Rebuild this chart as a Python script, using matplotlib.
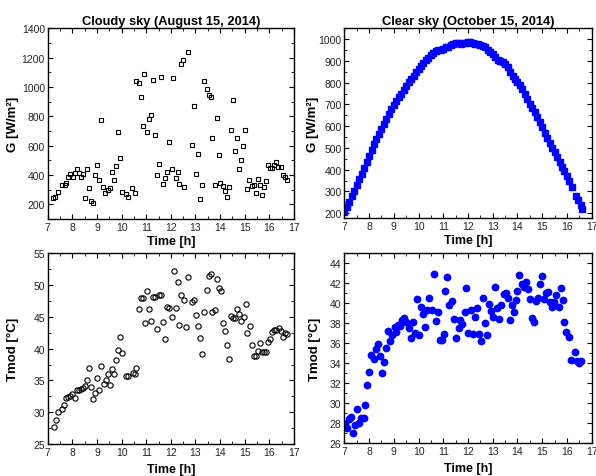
import matplotlib
matplotlib.use("Agg")
import matplotlib.pyplot as plt
from matplotlib.ticker import MultipleLocator

plt.rcParams['font.family'] = ['Liberation Sans', 'DejaVu Sans']

# Cloudy sky, irradiance
t_cloudy_g = [7.20, 7.31, 7.41, 7.58, 7.69, 7.76, 7.84, 7.92, 8.02, 8.09, 8.17, 8.26, 8.34, 8.42,
              8.51, 8.59, 8.67, 8.75, 8.84, 8.92, 9.02, 9.10, 9.18, 9.26, 9.34, 9.43, 9.52, 9.61,
              9.69, 9.77, 9.85, 9.93, 10.01, 10.16, 10.26, 10.43, 10.53, 10.60, 10.69, 10.77, 10.85,
              10.93, 11.03, 11.10, 11.19, 11.27, 11.34, 11.44, 11.52, 11.61, 11.69, 11.78, 11.86,
              11.93, 12.03, 12.09, 12.19, 12.27, 12.35, 12.43, 12.51, 12.53, 12.70, 12.86, 12.93,
              13.03, 13.12, 13.19, 13.28, 13.35, 13.45, 13.54, 13.61, 13.69, 13.78, 13.86, 13.95,
              14.01, 14.10, 14.20, 14.28, 14.36, 14.43, 14.53, 14.61, 14.69, 14.77, 14.85, 14.93,
              15.03, 15.08, 15.19, 15.28, 15.36, 15.45, 15.54, 15.62, 15.72, 15.80, 15.86, 15.96,
              16.04, 16.12, 16.20, 16.28, 16.36, 16.46, 16.54, 16.62, 16.70]
g_cloudy = [246, 250, 287, 330, 335, 344, 383, 406, 388, 413, 443, 413, 388, 406,
            246, 443, 314, 220, 207, 400, 466, 367, 777, 319, 280, 301, 314, 422,
            367, 461, 690, 518, 287, 273, 250, 308, 280, 1043, 1029, 930, 736,
            1088, 695, 782, 810, 1050, 670, 400, 473, 1068, 342, 381, 422,
            626, 438, 1063, 381, 418, 342, 1157, 1185, 319, 1240, 605, 871,
            404, 546, 234, 335, 1038, 985, 947, 930, 653, 335, 788, 534,
            347, 324, 289, 250, 319, 708, 914, 566, 653, 440, 500, 601,
            708, 303, 363, 328, 335, 280, 376, 335, 266, 317, 358, 470,
            447, 447, 466, 486, 454, 454, 400, 383, 369]

# Clear sky, irradiance
t_clear_g = [7.0, 7.1, 7.2, 7.3, 7.4, 7.5, 7.6, 7.7, 7.8, 7.9,
             8.0, 8.1, 8.2, 8.3, 8.4, 8.5, 8.6, 8.7, 8.8, 8.9,
             9.0, 9.1, 9.2, 9.3, 9.4, 9.5, 9.6, 9.7, 9.8, 9.9,
             10.0, 10.1, 10.2, 10.3, 10.4, 10.5, 10.6, 10.7, 10.8, 10.9,
             11.0, 11.1, 11.2, 11.3, 11.4, 11.5, 11.6, 11.7, 11.8, 11.9,
             12.0, 12.1, 12.2, 12.3, 12.4, 12.5, 12.6, 12.7, 12.8, 12.9,
             13.0, 13.1, 13.2, 13.3, 13.4, 13.5, 13.6, 13.7, 13.8, 13.9,
             14.0, 14.1, 14.2, 14.3, 14.4, 14.5, 14.6, 14.7, 14.8, 14.9,
             15.0, 15.1, 15.2, 15.3, 15.4, 15.5, 15.6, 15.7, 15.8, 15.9,
             16.0, 16.1, 16.2, 16.35, 16.45, 16.55, 16.62]
g_clear = [205, 228, 252, 278, 304, 330, 356, 382, 410, 437,
           465, 492, 518, 543, 566, 588, 612, 635, 657, 677,
           697, 715, 733, 750, 767, 785, 802, 818, 833, 847,
           862, 877, 890, 902, 915, 926, 937, 945, 948, 952,
           957, 962, 966, 972, 980, 984, 982, 980, 981, 984,
           989, 985, 983, 980, 978, 975, 970, 962, 950, 940,
           930, 918, 905, 898, 893, 885, 870, 850, 830, 818,
           805, 790, 770, 748, 726, 704, 685, 663, 640, 617,
           595, 570, 545, 522, 500, 480, 458, 436, 414, 393,
           372, 350, 322, 280, 260, 240, 218]

# Cloudy sky, module temperature
t_cloudy_t = [7.24, 7.33, 7.41, 7.58, 7.66, 7.75, 7.83, 7.91, 8.00, 8.09, 8.18, 8.26, 8.34, 8.42,
              8.51, 8.59, 8.67, 8.76, 8.85, 8.93, 9.01, 9.10, 9.17, 9.27, 9.35, 9.43, 9.51, 9.60,
              9.69, 9.77, 9.85, 9.93, 10.02, 10.16, 10.26, 10.45, 10.54, 10.60, 10.69, 10.77, 10.85,
              10.94, 11.03, 11.10, 11.19, 11.28, 11.36, 11.44, 11.53, 11.61, 11.69, 11.78, 11.86,
              11.93, 12.03, 12.11, 12.19, 12.27, 12.35, 12.43, 12.53, 12.61, 12.70, 12.84, 12.95,
              13.04, 13.12, 13.19, 13.28, 13.35, 13.45, 13.53, 13.61, 13.69, 13.78, 13.86, 13.95,
              14.03, 14.11, 14.20, 14.28, 14.36, 14.45, 14.53, 14.62, 14.70, 14.78, 14.86, 14.95,
              15.04, 15.11, 15.20, 15.28, 15.36, 15.46, 15.53, 15.62, 15.70, 15.78, 15.86, 15.96,
              16.04, 16.12, 16.20, 16.28, 16.38, 16.46, 16.54, 16.62, 16.70]
tmod_cloudy = [27.6, 28.8, 30.05, 30.5, 31.2, 32.2, 32.4, 32.6, 32.85, 32.2, 33.5, 33.5, 33.6, 33.85,
               34.2, 35.0, 37.0, 33.95, 32.1, 33.05, 35.4, 33.5, 37.3, 34.5, 35.1, 36.0, 34.3, 36.8,
               36.0, 38.2, 39.8, 41.9, 39.3, 35.65, 35.65, 36.2, 36.0, 37.0, 46.2, 47.9, 47.9,
               44.0, 49.1, 46.3, 44.4, 48.1, 48.2, 43.1, 48.5, 48.5, 44.2, 41.5, 46.6,
               46.4, 45.0, 52.2, 46.4, 50.5, 43.7, 48.4, 47.6, 43.4, 51.2, 47.3, 47.6,
               45.3, 43.5, 41.7, 39.1, 45.8, 49.2, 51.4, 51.8, 45.8, 46.1, 51.0, 49.6,
               49.0, 44.0, 42.8, 40.5, 38.4, 45.1, 44.9, 44.9, 46.2, 45.4, 44.4, 45.0,
               47.1, 42.4, 43.5, 40.5, 38.8, 38.8, 39.7, 40.9, 39.4, 39.4, 39.4, 41.0,
               41.5, 42.6, 43.0, 42.9, 43.3, 42.8, 41.9, 42.5, 42.3]

# Clear sky, module temperature
t_clear_t = [7.04, 7.11, 7.19, 7.27, 7.35, 7.45, 7.53, 7.61, 7.69, 7.78, 7.85, 7.93, 8.01, 8.09,
             8.19, 8.27, 8.35, 8.43, 8.53, 8.61, 8.69, 8.77, 8.85, 8.93, 9.03, 9.09, 9.17, 9.26,
             9.35, 9.43, 9.50, 9.61, 9.69, 9.78, 9.86, 9.94, 10.02, 10.11, 10.19, 10.27, 10.35,
             10.43, 10.53, 10.61, 10.69, 10.77, 10.85, 10.93, 11.01, 11.09, 11.17, 11.24,
             11.36, 11.44, 11.52, 11.62, 11.69, 11.77, 11.86, 11.93, 12.01, 12.11, 12.19, 12.27,
             12.35, 12.44, 12.52, 12.61, 12.69, 12.77, 12.85, 12.93, 13.01, 13.11, 13.19, 13.27,
             13.35, 13.44, 13.52, 13.60, 13.68, 13.76, 13.84, 13.92, 14.00, 14.08, 14.17, 14.25,
             14.33, 14.41, 14.49, 14.59, 14.67, 14.75, 14.83, 14.91, 14.99, 15.08, 15.15, 15.24,
             15.33, 15.40, 15.48, 15.56, 15.66, 15.74, 15.82, 15.90, 15.98, 16.08, 16.17, 16.32,
             16.40, 16.49, 16.57]
tmod_clear = [27.93, 27.54, 28.37, 28.57, 27.04, 27.83, 29.37, 28.03, 28.54, 28.54, 29.8, 31.8, 33.13, 34.84,
              34.4, 35.4, 35.9, 34.74, 33.03, 34.1, 35.5, 37.2, 36.2, 36.8, 37.57, 37.07, 37.84, 37.67,
              38.3, 38.47, 38.07, 37.47, 36.53, 38.13, 36.97, 40.4, 36.83, 39.6, 38.9, 37.57, 39.33,
              40.5, 39.33, 42.9, 38.17, 39.1, 36.3, 36.3, 36.87, 41.18, 42.58, 39.77,
              40.25, 38.37, 36.53, 37.47, 38.3, 37.9, 39.1, 41.48, 36.97, 39.33, 36.93, 38.57,
              39.47, 36.9, 36.2, 40.55, 38.0, 36.8, 39.9, 39.17, 38.63, 41.61, 39.54, 38.43,
              39.84, 40.88, 41.0, 40.55, 38.27, 39.77, 39.1, 40.27, 41.24, 42.8, 41.9, 41.57,
              42.1, 41.4, 40.4, 38.47, 38.07, 40.23, 40.55, 41.9, 42.7, 40.4, 41.0, 41.07,
              40.13, 39.6, 40.1, 40.77, 39.6, 41.5, 40.33, 38.07, 37.07, 36.63, 34.33, 35.13,
              34.23, 33.97, 34.2]

fig = plt.figure(figsize=(5.96, 4.77), dpi=100)
W, H = 596, 477


def make_axes(left, top, right, bottom):
    return fig.add_axes([left / W, 1 - bottom / H, (right - left) / W, (bottom - top) / H])


def style(ax, ymaj, ymin, ylabel, ylim, ylab_x, xlab_y):
    ax.set_xlim(7, 17)
    ax.set_ylim(*ylim)
    ax.xaxis.set_major_locator(MultipleLocator(1))
    ax.xaxis.set_minor_locator(MultipleLocator(0.5))
    ax.yaxis.set_major_locator(MultipleLocator(ymaj))
    ax.yaxis.set_minor_locator(MultipleLocator(ymin))
    ax.tick_params(which='both', direction='in', top=True, right=True,
                   labelsize=7.5, pad=2, colors='black', labelcolor='#222222')
    ax.tick_params(which='major', length=3.5, width=0.8)
    ax.tick_params(which='minor', length=2, width=0.6)
    for sp in ax.spines.values():
        sp.set_linewidth(1.0)
    ax.set_xlabel('Time [h]', fontsize=9, fontweight='bold')
    ax.set_ylabel(ylabel, fontsize=9.5, fontweight='bold')
    # fixed label positions, like the original layout
    ax.yaxis.set_label_coords(ylab_x, 0.5)
    ax.xaxis.set_label_coords(0.5, xlab_y)


ax1 = make_axes(47.7, 29.3, 294, 220)
ax1.plot(t_cloudy_g, g_cloudy, 's', ms=3.4, mfc='none', mec='black', mew=0.8)
style(ax1, 200, 100, 'G [W/m²]', (100, 1400), -0.117, -0.082)
ax1.set_title('Cloudy sky (August 15, 2014)', fontsize=9.3, fontweight='bold', pad=3)

ax2 = make_axes(344.3, 29.3, 591.7, 219)
ax2.plot(t_clear_g, g_clear, 's', ms=3.9, color='#0000ff', mec='#0000ff')
style(ax2, 100, 50, 'G [W/m²]', (178, 1050), -0.102, -0.085)
ax2.set_title('Clear sky (October 15, 2014)', fontsize=9.3, fontweight='bold', pad=3)

ax3 = make_axes(47.7, 254.3, 294, 445)
ax3.plot(t_cloudy_t, tmod_cloudy, 'o', ms=3.8, mfc='none', mec='black', mew=0.8)
style(ax3, 5, 2.5, 'Tmod [°C]', (25, 55), -0.117, -0.1)

ax4 = make_axes(344.3, 254, 591.7, 444)
ax4.plot(t_clear_t, tmod_clear, 'o', ms=4.6, color='#0000ff', mec='#0000ff')
style(ax4, 2, 1, 'Tmod [°C]', (26, 45), -0.094, -0.1)

fig.savefig('out.png', dpi=100)
